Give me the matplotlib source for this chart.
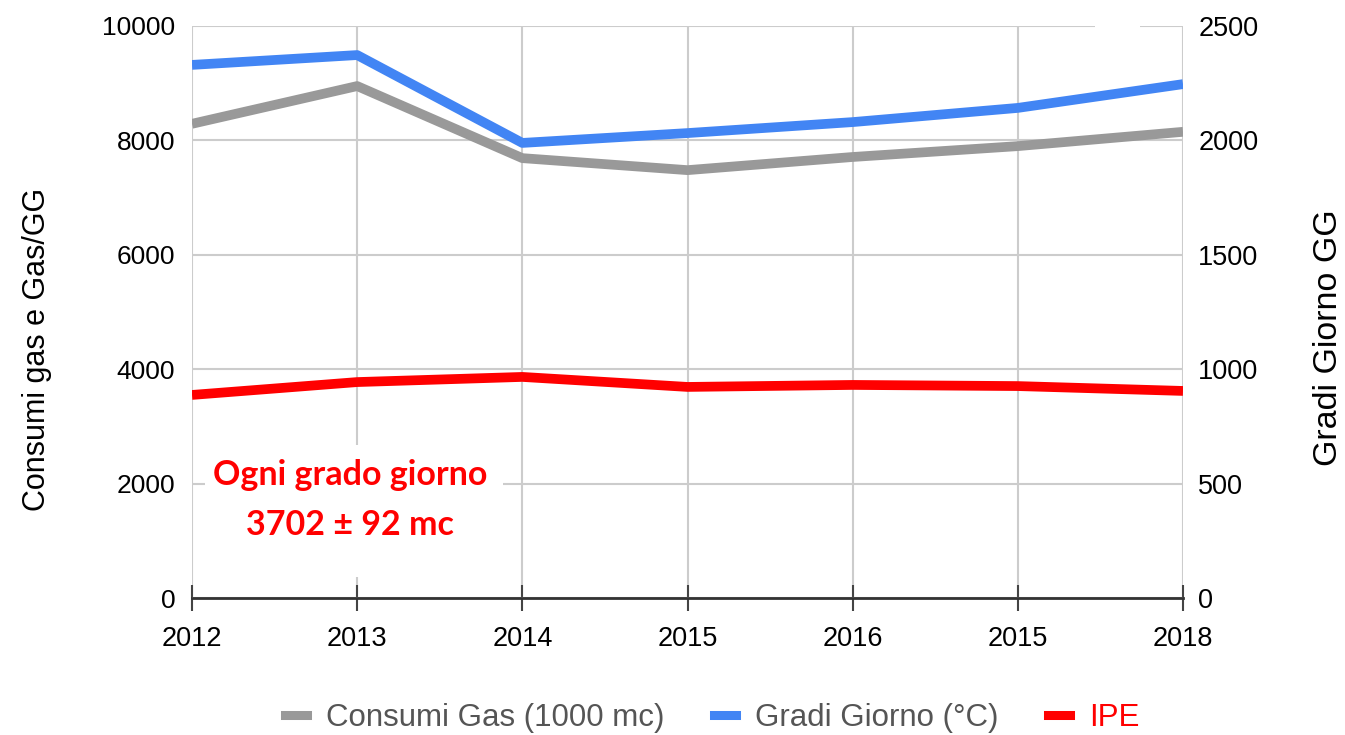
import matplotlib
matplotlib.use("Agg")
import matplotlib.pyplot as plt
from matplotlib.patches import Rectangle
from matplotlib.lines import Line2D

plt.rcParams['font.family'] = ['Liberation Sans', 'DejaVu Sans']

years = ["2012", "2013", "2014", "2015", "2016", "2015", "2018"]
consumi_gas = [8290, 8950, 7690, 7480, 7710, 7900, 8150]
gradi_giorno = [2330, 2373, 1989, 2032, 2080, 2142, 2246]
ipe = [3550, 3775, 3865, 3690, 3725, 3705, 3620]

W, H = 1345, 735
fig = plt.figure(figsize=(W / 100, H / 100), dpi=100)
ax = fig.add_axes([192 / W, 1 - 598 / H, (1183 - 192) / W, (598 - 26) / H])
ax2 = ax.twinx()

x = list(range(len(years)))
ax.set_xlim(0, len(years) - 1)
ax.set_ylim(0, 10000)
ax2.set_ylim(0, 2500)

ax.plot(x, consumi_gas, color='#999999', lw=7, solid_capstyle='butt', zorder=3)
ax.plot(x, ipe, color='#ff0000', lw=7, solid_capstyle='butt', zorder=3)
ax2.plot(x, gradi_giorno, color='#4285f4', lw=7, solid_capstyle='butt', zorder=3)

ax.set_yticks([0, 2000, 4000, 6000, 8000, 10000])
ax2.set_yticks([0, 500, 1000, 1500, 2000, 2500])
ax.set_xticks(x)
ax.set_xticklabels(years)
ax.grid(True, color='#cccccc', lw=1.5, zorder=0)
for a in (ax, ax2):
    for s in ['top', 'right', 'left', 'bottom']:
        a.spines[s].set_visible(False)
ax.axhline(0, color='#333333', lw=2, zorder=4, clip_on=False)
ax.tick_params(axis='y', length=0, labelsize=19, pad=12)
ax2.tick_params(axis='y', length=0, labelsize=19.5, pad=11)
ax.tick_params(axis='x', length=19, width=1.5, color='#444444', labelsize=19.5, pad=11,
               direction='inout')
for i, t in enumerate(ax.xaxis.get_major_ticks()):
    if i % 2 == 1:
        t.tick1line.set_color('#cccccc')

ax.set_ylabel('Consumi gas e Gas/GG', fontsize=22)
ax.yaxis.set_label_coords(-0.141, 0.434)
ax2.set_ylabel('Gradi Giorno GG', fontsize=24.5)
ax2.yaxis.set_label_coords(1.131, 0.455)

# white patch behind annotation (covers gridlines)
ax.add_patch(Rectangle((0.079, 367), 1.804, 2308, facecolor='white', edgecolor='none',
                       zorder=2))
# small white gap on top gridline
ax.add_patch(Rectangle((5.467, 9900), 0.273, 200, facecolor='white', edgecolor='none',
                       zorder=2, clip_on=False))

ax.text(0.956, 2150, 'Ogni grado giorno', color='#ff0000', fontsize=24.5, fontweight='bold',
        family=['Lato', 'DejaVu Sans'], ha='center', va='center', zorder=5)
ax.text(0.956, 1276, '3702 ± 92 mc', color='#ff0000', fontsize=24.5, fontweight='bold',
        family=['Lato', 'DejaVu Sans'], ha='center', va='center', zorder=5)

# legend
handles = [Line2D([0], [0], color='#999999', lw=6.5),
           Line2D([0], [0], color='#4285f4', lw=6.5),
           Line2D([0], [0], color='#ff0000', lw=6.5)]
labels = ['Consumi Gas (1000 mc)', 'Gradi Giorno (°C)', 'IPE']
leg = fig.legend(handles, labels, loc='center', bbox_to_anchor=(712 / W, 1 - 718 / H),
                 ncol=3, frameon=False, fontsize=22.5, handlelength=0.7,
                 columnspacing=1.6, handletextpad=0.6)
for t, c in zip(leg.get_texts(), ['#555555', '#555555', '#ff0000']):
    t.set_color(c)

fig.savefig('out.png', dpi=100)
